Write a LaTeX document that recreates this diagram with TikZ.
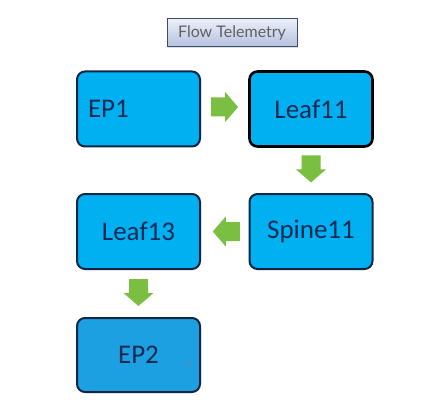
\documentclass[tikz,border=0pt]{standalone}
\usepackage{fontspec}
\setmainfont{Carlito}
\newfontfamily\titlefont{Lato}
\usetikzlibrary{calc,shadows}
\definecolor{boxfill}{RGB}{0,176,240}
\definecolor{boxfilltwo}{RGB}{28,160,226}
\definecolor{boxline}{RGB}{14,38,66}
\definecolor{boxtext}{RGB}{16,42,84}
\definecolor{arrowgreen}{RGB}{122,190,66}
\definecolor{titletop}{RGB}{236,239,248}
\definecolor{titlebot}{RGB}{180,192,222}
\definecolor{titleline}{RGB}{60,76,108}
\definecolor{titletext}{RGB}{95,95,100}
\tikzset{
  netbox/.style={draw=boxline, line width=2pt, fill=boxfill, rounded corners=8pt,
    minimum width=123pt, minimum height=75pt, inner sep=0pt,
    text=boxtext, font=\fontsize{27}{30}\selectfont},
  titlebox/.style={draw=titleline, line width=1pt, top color=titletop, bottom color=titlebot,
    minimum width=130pt, minimum height=28pt, inner sep=0pt,
    text=titletext, font=\titlefont\fontsize{16}{18}\selectfont,
    drop shadow={shadow xshift=1pt, shadow yshift=-1.5pt, opacity=0.25}},
  pics/blockarrow/.style={code={
    \fill[arrowgreen] (-13.5,-9.5) -- (0.5,-9.5) -- (0.5,-15) -- (13.5,0) -- (0.5,15)
      -- (0.5,9.5) -- (-13.5,9.5) -- cycle;}}
}
\begin{document}
\begin{tikzpicture}[x=1pt,y=-1pt]
\useasboundingbox (0,0) rectangle (423,409);
\fill[white] (0,0) rectangle (423,409);
\node[titlebox] (title) at (232,33) {Flow Telemetry};
\node[netbox, text width=101pt, align=left, inner xsep=10pt] (ep1) at (138.5,109) {EP1};
\node[netbox, draw=black, line width=2.6pt] (leaf11) at (311,109) {Leaf11};
\node[netbox] (spine11) at (311,231.5) {Spine11};
\node[netbox] (leaf13) at (138.5,231.5) {Leaf13};
\node[netbox, fill=boxfilltwo, minimum height=74pt] (ep2) at (138.5,355) {EP2};
\coordinate (m1) at ($(ep1.east)!0.5!(leaf11.west)+(0,-2)$);
\coordinate (m2) at ($(leaf11.south)!0.5!(spine11.north)+(0,-1.5)$);
\coordinate (m3) at ($(spine11.west)!0.5!(leaf13.east)+(1.5,0)$);
\coordinate (m4) at ($(leaf13.south)!0.5!(ep2.north)+(0,-1)$);
\pic[shift={(m1)}] {blockarrow};
\pic[shift={(m2)}, rotate=-90] {blockarrow};
\pic[shift={(m3)}, rotate=180] {blockarrow};
\pic[shift={(m4)}, rotate=-90] {blockarrow};
\draw[gray, line width=0.6pt] ($(ep2.center)+(49,9)$) circle (1.8pt);
\end{tikzpicture}
\end{document}
